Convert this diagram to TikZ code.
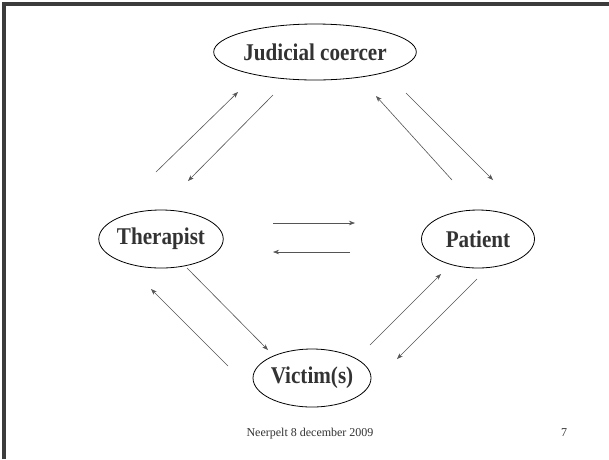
\documentclass[tikz,border=0pt]{standalone}
\usepackage{fontspec}
\setmainfont{Liberation Serif}
\newfontfamily\labelfont[FakeStretch=0.88]{Liberation Serif}
\usetikzlibrary{shapes.geometric,arrows.meta}
\definecolor{framegray}{HTML}{3C3C3C}
\definecolor{txtgray}{HTML}{333333}
\definecolor{arrgray}{HTML}{555555}
\tikzset{
  actor/.style={draw=black, line width=0.8pt, ellipse, inner sep=0pt,
    font=\labelfont\fontsize{24}{26}\selectfont\bfseries, text=txtgray},
  flow/.style={draw=arrgray, line width=0.6pt, -{Stealth[length=6pt,width=4.5pt]}},
  foot/.style={font=\fontsize{12}{14}\selectfont, text=txtgray, inner sep=0pt, anchor=base},
  frameline/.style={draw=framegray, line width=3.5pt}
}
\begin{document}
\begin{tikzpicture}[x=1pt,y=-1pt]
\useasboundingbox (0,0) rectangle (609,459);
\fill[white] (0,0) rectangle (609,459);
% frame
\coordinate (f1) at (4,459);
\coordinate (f2) at (4,4);
\coordinate (f3) at (609,4);
\draw[frameline] (f1) -- (f2) -- (f3);
% actors
\node[actor, minimum width=164pt, minimum height=56pt] (J) at (315,52) {Judicial coercer};
\node[actor, minimum width=113pt, minimum height=58pt] (T) at (161,239) {Therapist};
\node[actor, minimum width=113pt, minimum height=58pt] (P) at (478,239) {Patient};
\node[actor, minimum width=118pt, minimum height=58pt] (V) at (312,378) {Victim(s)};
% arrow end points
\coordinate (a1s) at (156,172); \coordinate (a1e) at (238,92);
\coordinate (a2s) at (273,95);  \coordinate (a2e) at (188,181);
\coordinate (a3s) at (452,180); \coordinate (a3e) at (376,96);
\coordinate (a4s) at (406,93);  \coordinate (a4e) at (493,180);
\coordinate (a5s) at (273,223); \coordinate (a5e) at (355,223);
\coordinate (a6s) at (350,252); \coordinate (a6e) at (273,252);
\coordinate (a7s) at (228,366); \coordinate (a7e) at (151,289);
\coordinate (a8s) at (187,268); \coordinate (a8e) at (268,350);
\coordinate (a9s) at (370,345); \coordinate (a9e) at (441,274);
\coordinate (a10s) at (477,279); \coordinate (a10e) at (397,359);
\foreach \i in {1,...,10} \draw[flow] (a\i s) -- (a\i e);
% footer
\node[foot] (date) at (310,436) {Neerpelt 8 december 2009};
\node[foot] (num) at (564,436) {7};
\end{tikzpicture}
\end{document}
